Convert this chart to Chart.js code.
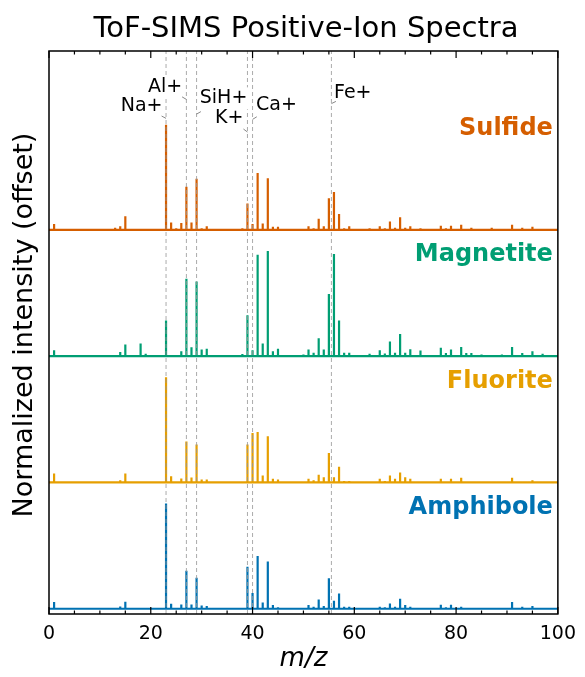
<!DOCTYPE html>
<html>
<head>
<meta charset="utf-8">
<script src="https://cdn.jsdelivr.net/npm/chart.js@4"></script>
<style>
  html, body { margin: 0; padding: 0; background: #fff; }
</style>
</head>
<body>
<canvas id="chart" width="585" height="677"></canvas>
<script>
// m/z positions shared by all four spectra
const mz = [1, 12, 13, 14, 15, 16, 18, 19,
  23, 24, 25, 26, 27, 28, 29, 30, 31, 32,
  38, 39, 40, 41, 42, 43, 44, 45, 46,
  50, 51, 52, 53, 54, 55, 56, 57, 58, 59,
  60, 61, 62, 63, 64, 65, 66, 67, 68, 69, 70, 71, 72, 73, 74, 75, 76, 77, 78, 79,
  80, 81, 82, 83, 84, 85, 86, 87, 88, 89, 90, 91, 92, 93, 94, 95, 96, 97, 98, 99];

// normalized intensities (max = 1) for each spectrum, same order as mz
const sulfide = [.055, .005, .02, .035, .13, .005, .01, .01,
  1.0, .07, .015, .065, .41, .07, .485, .015, .035, .005,
  .015, .25, .055, .54, .06, .49, .03, .03, .005,
  .01, .035, .015, .105, .035, .30, .36, .15, .015, .035,
  .005, .005, .005, .015, .005, .035, .015, .08, .02, .12, .02, .035, .005, .015, .005, .005, .005, .04, .015, .04,
  .01, .05, .01, .02, .005, .01, .005, .02, .005, .01, .005, .05, .005, .02, .005, .03, .005, .01, .005, .01];
const magnetite = [.057, .005, .01, .04, .11, .005, .12, .022,
  .34, .01, .005, .048, .735, .085, .71, .064, .07, .005,
  .02, .39, .057, .965, .12, 1.0, .048, .07, .005,
  .016, .064, .032, .17, .064, .59, .97, .34, .032, .032,
  .005, .005, .005, .022, .005, .057, .026, .14, .032, .21, .032, .067, .005, .054, .005, .005, .005, .08, .03, .064,
  .005, .088, .03, .03, .005, .016, .005, .01, .005, .016, .005, .088, .005, .03, .005, .048, .005, .022, .005, .005];
const fluorite = [.085, .005, .005, .022, .085, .005, .01, .005,
  1.0, .06, .01, .038, .39, .048, .36, .028, .028, .005,
  .01, .36, .47, .48, .067, .44, .035, .028, .005,
  .01, .035, .02, .073, .05, .28, .05, .15, .015, .015,
  .005, .005, .005, .01, .005, .035, .015, .067, .035, .095, .05, .035, .005, .01, .005, .005, .005, .035, .01, .035,
  .005, .045, .01, .01, .005, .01, .005, .01, .005, .01, .005, .045, .005, .01, .005, .02, .005, .01, .005, .005];
const amphibole = [.063, .005, .01, .022, .066, .005, .005, .005,
  1.0, .048, .01, .041, .36, .041, .295, .031, .026, .005,
  .01, .40, .15, .50, .06, .45, .035, .015, .005,
  .01, .035, .02, .088, .026, .29, .076, .145, .02, .02,
  .005, .005, .005, .01, .005, .02, .015, .05, .02, .095, .035, .02, .005, .01, .005, .005, .005, .038, .015, .038,
  .005, .02, .01, .01, .005, .01, .005, .01, .005, .01, .005, .064, .005, .02, .005, .025, .005, .01, .005, .005];

const seriesNames = ['Sulfide', 'Magnetite', 'Fluorite', 'Amphibole'];
const seriesValues = [sulfide, magnetite, fluorite, amphibole];
const seriesOffsets = [3.6, 2.4, 1.2, 0];
const seriesColors = ['#D55E00', '#009E73', '#E69F00', '#0072B2'];

// reference ion lines and their labels
const ionNames = ['Na+', 'Al+', 'SiH+', 'K+', 'Ca+', 'Fe+'];
const ionMz = [23, 27, 29, 39, 40, 55.5];
const ionLabelX = [18.2, 22.8, 34.3, 35.4, 44.7, 59.7];
const ionLabelY = [4.78, 4.96, 4.85, 4.66, 4.79, 4.90];
const ionTipY = [4.66, 4.84, 4.70, 4.53, 4.65, 4.80];

const xTickLabels = [0, 20, 40, 60, 80, 100];

const FONT = 'DejaVu Sans';

function sticks(values, offset) {
  const pts = [{x: 0, y: offset}];
  mz.forEach((m, i) => {
    pts.push({x: m, y: offset}, {x: m, y: offset + values[i]}, {x: m, y: offset});
  });
  pts.push({x: 100, y: offset});
  return pts;
}

const framePlugin = {
  id: 'frame',
  afterDatasetsDraw(chart) {
    const {ctx, chartArea: a, scales: {x, y}} = chart;
    ctx.save();

    // dashed reference lines
    ctx.strokeStyle = 'rgba(150,150,150,0.8)';
    ctx.lineWidth = 1;
    ctx.setLineDash([4, 3]);
    ionMz.forEach(m => {
      const px = x.getPixelForValue(m);
      ctx.beginPath();
      ctx.moveTo(px, a.bottom);
      ctx.lineTo(px, a.top);
      ctx.stroke();
    });
    ctx.setLineDash([]);

    // ion labels with white box + short leader
    ctx.font = '19px "' + FONT + '"';
    ctx.textAlign = 'center';
    ctx.textBaseline = 'middle';
    ionNames.forEach((name, i) => {
      const cx = x.getPixelForValue(ionLabelX[i]);
      const cy = y.getPixelForValue(ionLabelY[i]);
      const tx = x.getPixelForValue(ionMz[i]);
      const ty = y.getPixelForValue(ionTipY[i]);
      const w = ctx.measureText(name).width;
      ctx.fillStyle = '#fff';
      ctx.fillRect(cx - w / 2 - 2, cy - 11, w + 4, 22);
      const dx = cx - tx, dy = cy - ty, len = Math.hypot(dx, dy);
      ctx.strokeStyle = '#888';
      ctx.lineWidth = 1;
      ctx.beginPath();
      ctx.moveTo(tx, ty);
      ctx.lineTo(tx + dx / len * 5, ty + dy / len * 5);
      ctx.stroke();
      ctx.fillStyle = '#000';
      ctx.fillText(name, cx, cy);
    });

    // spectrum names
    ctx.font = 'bold 24px "' + FONT + '"';
    ctx.textAlign = 'right';
    seriesNames.forEach((name, k) => {
      ctx.fillStyle = seriesColors[k];
      ctx.fillText(name, a.right - 5, y.getPixelForValue(seriesOffsets[k] + 0.96));
    });

    // frame and inward ticks
    ctx.strokeStyle = '#000';
    ctx.lineWidth = 1.5;
    ctx.strokeRect(a.left, a.top, a.right - a.left, a.bottom - a.top);
    ctx.lineWidth = 1.2;
    for (let v = 0; v <= 100; v += 5) {
      const px = x.getPixelForValue(v);
      const len = v % 20 === 0 ? 7 : 3.5;
      ctx.beginPath();
      ctx.moveTo(px, a.bottom);
      ctx.lineTo(px, a.bottom - len);
      ctx.moveTo(px, a.top);
      ctx.lineTo(px, a.top + len);
      ctx.stroke();
    }

    // y axis label
    ctx.translate(24.5, 325);
    ctx.rotate(-Math.PI / 2);
    ctx.font = '27px "' + FONT + '"';
    ctx.textAlign = 'center';
    ctx.fillStyle = '#000';
    ctx.fillText('Normalized intensity (offset)', 0, 0);
    ctx.restore();
  }
};

new Chart(document.getElementById('chart'), {
  type: 'line',
  data: {
    datasets: seriesNames.map((name, k) => ({
      label: name,
      data: sticks(seriesValues[k], seriesOffsets[k]),
      borderColor: seriesColors[k],
      borderWidth: 2.2,
      borderJoinStyle: 'bevel',
      pointRadius: 0,
      tension: 0,
      fill: false
    }))
  },
  options: {
    responsive: false,
    animation: false,
    devicePixelRatio: 1,
    layout: {padding: {left: 49, right: 22, top: 0, bottom: 0}},
    plugins: {
      legend: {display: false},
      tooltip: {enabled: false},
      title: {
        display: true,
        text: 'ToF-SIMS Positive-Ion Spectra',
        color: '#000',
        font: {family: FONT, size: 29, weight: 'normal'},
        padding: {top: 12, bottom: 4.2}
      }
    },
    scales: {
      x: {
        type: 'linear',
        min: 0,
        max: 100,
        afterBuildTicks: s => { s.ticks = xTickLabels.map(v => ({value: v})); },
        ticks: {color: '#000', font: {family: FONT, size: 19}, padding: 9, maxRotation: 0},
        grid: {display: false, drawTicks: false},
        border: {display: false},
        title: {
          display: true,
          text: 'm/z',
          color: '#000',
          font: {family: FONT, size: 26, style: 'italic'},
          padding: {top: 0, bottom: 2}
        },
        afterFit: s => { s.height = 63; }
      },
      y: {type: 'linear', min: -0.05, max: 5.3, display: false}
    }
  },
  plugins: [framePlugin]
});
</script>
</body>
</html>
